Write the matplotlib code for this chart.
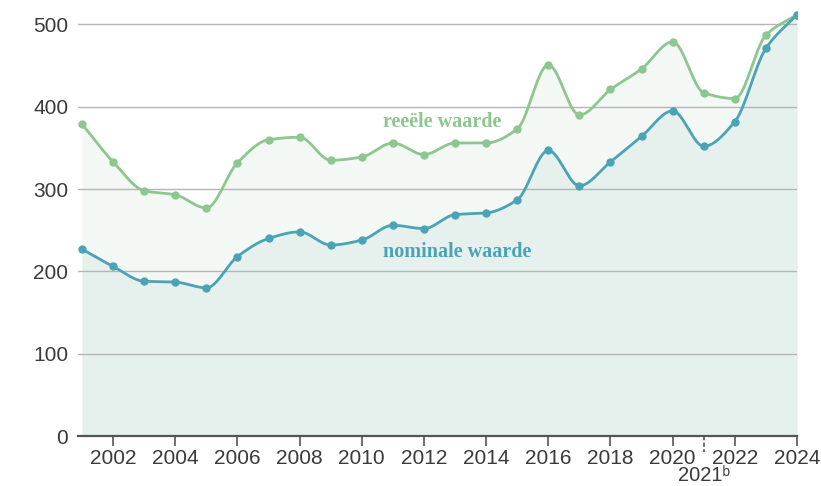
import numpy as np
import matplotlib
matplotlib.use("Agg")
import matplotlib.pyplot as plt

years = list(range(2001, 2025))
reele = [379, 333, 298, 293, 277, 332, 360, 363, 335, 339, 356, 342,
         356, 356, 373, 451, 390, 421, 446, 479, 417, 410, 487, 512]
nominaal = [227, 206, 188, 187, 180, 218, 240, 248, 232, 238, 256, 252,
            269, 271, 287, 347, 304, 333, 364, 395, 352, 382, 471, 512]
xticks = list(range(2002, 2025, 2))
yticks = [0, 100, 200, 300, 400, 500]

GREEN = "#8dc68f"
BLUE = "#4ba3b6"
GREEN_FILL = "#f3f8f5"
BLUE_FILL = "#e6f0ed"
TXT = "#3a3a3a"


def monotone(x, y, n=40):
    """Monotone cubic (Fritsch-Carlson) smoothing for drawing the lines."""
    x = np.asarray(x, float)
    y = np.asarray(y, float)
    h = np.diff(x)
    d = np.diff(y) / h
    m = np.zeros_like(y)
    m[0], m[-1] = d[0], d[-1]
    for i in range(1, len(y) - 1):
        if d[i - 1] * d[i] <= 0:
            m[i] = 0
        else:
            w1 = 2 * h[i] + h[i - 1]
            w2 = h[i] + 2 * h[i - 1]
            m[i] = (w1 + w2) / (w1 / d[i - 1] + w2 / d[i])
    xs, ys = [], []
    for i in range(len(x) - 1):
        t = np.linspace(0, 1, n, endpoint=False)
        h00 = 2 * t**3 - 3 * t**2 + 1
        h10 = t**3 - 2 * t**2 + t
        h01 = -2 * t**3 + 3 * t**2
        h11 = t**3 - t**2
        xs.append(x[i] + t * h[i])
        ys.append(h00 * y[i] + h10 * h[i] * m[i] + h01 * y[i + 1] + h11 * h[i] * m[i + 1])
    xs.append([x[-1]])
    ys.append([y[-1]])
    return np.concatenate(xs), np.concatenate(ys)


plt.rcParams["font.family"] = ["Liberation Sans", "DejaVu Sans"]

fig = plt.figure(figsize=(8.21, 4.86), dpi=100)
ax = fig.add_axes([78 / 821, 50 / 486, (797 - 78) / 821, (436 - 8) / 486])

xg, yg = monotone(years, reele)
xb, yb = monotone(years, nominaal)

ax.fill_between(xg, yg, 0, color=GREEN_FILL, lw=0, zorder=1)
ax.fill_between(xb, yb, 0, color=BLUE_FILL, lw=0, zorder=2)

for yv in yticks[1:]:
    ax.axhline(yv, color="#b5b5b5", lw=1.0, zorder=3)

ax.plot(xg, yg, color=GREEN, lw=2.0, zorder=4, solid_capstyle="round")
ax.plot(years, reele, "o", color=GREEN, ms=5, zorder=5)
ax.plot(xb, yb, color=BLUE, lw=2.0, zorder=6, solid_capstyle="round")
ax.plot(years, nominaal, "o", color=BLUE, ms=5, zorder=7)

ax.set_xlim(2000.87, 2024)
ax.set_ylim(0, 520)

for s in ["top", "right", "left"]:
    ax.spines[s].set_visible(False)
ax.spines["bottom"].set_color("#555555")
ax.spines["bottom"].set_linewidth(1.6)
ax.spines["bottom"].set_zorder(8)

ax.set_yticks(yticks)
ax.set_yticklabels([str(v) for v in yticks])
ax.tick_params(axis="y", length=0, pad=7, labelsize=15, labelcolor=TXT)
ax.set_xticks(xticks)
ax.set_xticklabels([str(v) for v in xticks])
ax.tick_params(axis="x", length=7, width=1.2, color="#555555", pad=2,
               labelsize=15, labelcolor=TXT)

# extra dashed tick for 2021
ax.plot([2021, 2021], [0, -20], color="#555555", lw=1.2, ls=(0, (2.5, 1.5)),
        clip_on=False, zorder=8)
ax.text(2021, -48, "2021ᵇ", ha="center", va="center", fontsize=14.5, color=TXT)

serif = ["Liberation Serif", "DejaVu Serif"]
ax.text(2010.68, 381, "reeële waarde", family=serif, fontweight="bold",
        fontsize=14.5, color=GREEN, va="center", ha="left", zorder=9)
ax.text(2010.68, 224, "nominale waarde", family=serif, fontweight="bold",
        fontsize=14.5, color=BLUE, va="center", ha="left", zorder=9)

fig.savefig("out.png", dpi=100)
